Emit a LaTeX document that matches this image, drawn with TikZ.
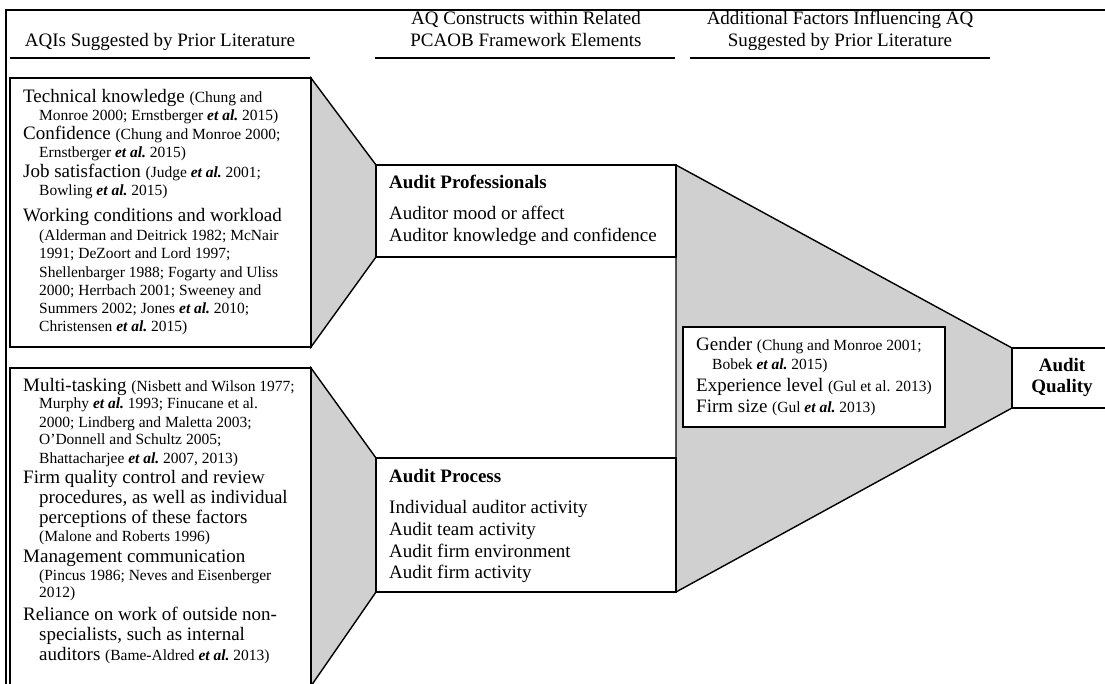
\documentclass[tikz,border=0pt]{standalone}
\usepackage{fontspec}
\setmainfont{Liberation Serif}
\usetikzlibrary{backgrounds}
\definecolor{fillg}{RGB}{208,208,208}
\newcommand\sm[1]{{\fontsize{15.5}{18}\selectfont #1}}
\newcommand\etal{\textbf{\textit{et al.}}}
\begin{document}
\begin{tikzpicture}[x=1pt,y=-1pt,
  box/.style={draw, line width=1.7pt, fill=white, inner sep=0pt, outer sep=0pt, anchor=north west},
  ln/.style={anchor=base west, inner sep=0pt, font=\fontsize{19}{22}\selectfont},
  sln/.style={anchor=base west, inner sep=0pt, font=\fontsize{15.5}{18}\selectfont},
  hd/.style={anchor=base, inner sep=0pt, font=\fontsize{19}{22}\selectfont},
  rulel/.style={line width=1.8pt},
  framel/.style={line width=2.6pt},
  trap/.style={fill=fillg, draw, line width=1.4pt, line join=miter}]
\clip (0,0) rectangle (1105,684);
% boxes
\node[box, minimum width=301pt, minimum height=269pt] (b1) at (10,78) {};
\node[box, minimum width=301pt, minimum height=330pt] (b2) at (10,368) {};
\node[box, minimum width=300pt, minimum height=92pt] (ap) at (376,165) {};
\node[box, minimum width=300pt, minimum height=134pt] (pr) at (376,458) {};
\node[box, minimum width=110pt, minimum height=60pt] (aq) at (1012,348) {};
\coordinate (t2b) at (311,686);
\begin{pgfonlayer}{background}
\fill[white] (0,0) rectangle (1105,684);
\draw[trap] (b1.north east) -- (ap.north west) -- (ap.south west) -- (b1.south east) -- cycle;
\draw[trap] (b2.north east) -- (pr.north west) -- (pr.south west) -- (t2b) -- cycle;
\draw[trap] (ap.north east) -- (aq.north west) -- (aq.south west) -- (pr.south east) -- cycle;
\end{pgfonlayer}
\node[box, minimum width=262pt, minimum height=100pt] (gd) at (683,327) {};
% frame
\draw[framel] (6,700) -- (6,10) -- (1110,10);
% headers
\node[hd] (h1) at (160,47) {AQIs Suggested by Prior Literature};
\node[hd] (h2a) at (526,25) {AQ Constructs within Related};
\node[hd] (h2b) at (526,47) {PCAOB Framework Elements};
\node[hd] (h3a) at (840,25) {Additional Factors Influencing AQ};
\node[hd] (h3b) at (840,47) {Suggested by Prior Literature};
\draw[rulel] (10,58) -- (310,58);
\draw[rulel] (375,58) -- (675,58);
\draw[rulel] (690,58) -- (990,58);
% box 1 text
\node[ln] (a1) at (23,103) {Technical knowledge \sm{(Chung and}};
\node[sln] (a2) at (39,121) {Monroe 2000; Ernstberger \etal\ 2015)};
\node[ln] (a3) at (23,140) {Confidence \sm{(Chung and Monroe 2000;}};
\node[sln] (a4) at (39,158) {Ernstberger \etal\ 2015)};
\node[ln] (a5) at (23,178) {Job satisfaction \sm{(Judge \etal\ 2001;}};
\node[sln] (a6) at (39,196) {Bowling \etal\ 2015)};
\node[ln] (a7) at (23,222) {Working conditions and workload};
\node[sln] (a8) at (39,241) {(Alderman and Deitrick 1982; McNair};
\node[sln] (a9) at (39,259) {1991; DeZoort and Lord 1997;};
\node[sln] (a10) at (39,278) {Shellenbarger 1988; Fogarty and Uliss};
\node[sln] (a11) at (39,296) {2000; Herrbach 2001; Sweeney and};
\node[sln] (a12) at (39,314) {Summers 2002; Jones \etal\ 2010;};
\node[sln] (a13) at (39,332) {Christensen \etal\ 2015)};
% box 2 text
\node[ln] (c1) at (23,391) {Multi-tasking \sm{(Nisbett and Wilson 1977;}};
\node[sln] (c2) at (39,408) {Murphy \etal\ 1993; Finucane et al.};
\node[sln] (c3) at (39,427) {2000; Lindberg and Maletta 2003;};
\node[sln] (c4) at (39,444) {O’Donnell and Schultz 2005;};
\node[sln] (c5) at (39,463) {Bhattacharjee \etal\ 2007, 2013)};
\node[ln] (c6) at (23,483) {Firm quality control and review};
\node[ln] (c7) at (39,503) {procedures, as well as individual};
\node[ln] (c8) at (39,523) {perceptions of these factors};
\node[sln] (c9) at (39,541) {(Malone and Roberts 1996)};
\node[ln] (c10) at (23,562) {Management communication};
\node[sln] (c11) at (39,580) {(Pincus 1986; Neves and Eisenberger};
\node[sln] (c12) at (39,597) {2012)};
\node[ln] (c13) at (23,620) {Reliance on work of outside non-};
\node[ln] (c14) at (39,640) {specialists, such as internal};
\node[ln] (c15) at (39,660) {auditors \sm{(Bame-Aldred \etal\ 2013)}};
% audit professionals
\node[ln] (p1) at (389,189) {\textbf{Audit Professionals}};
\node[ln] (p2) at (389,220) {Auditor mood or affect};
\node[ln] (p3) at (389,242) {Auditor knowledge and confidence};
% audit process
\node[ln] (q1) at (389,482) {\textbf{Audit Process}};
\node[ln] (q2) at (389,513) {Individual auditor activity};
\node[ln] (q3) at (389,535) {Audit team activity};
\node[ln] (q4) at (389,557) {Audit firm environment};
\node[ln] (q5) at (389,578) {Audit firm activity};
% gender box
\node[ln] (g1) at (696,350) {Gender \sm{(Chung and Monroe 2001;}};
\node[sln] (g2) at (712,369) {Bobek \etal\ 2015)};
\node[ln] (g3) at (696,391) {Experience level \sm{(Gul et al. 2013)}};
\node[ln] (g4) at (696,412) {Firm size \sm{(Gul \etal\ 2013)}};
% audit quality
\node[hd] (r1) at (1062,371) {\textbf{Audit}};
\node[hd] (r2) at (1062,392) {\textbf{Quality}};
\end{tikzpicture}
\end{document}
